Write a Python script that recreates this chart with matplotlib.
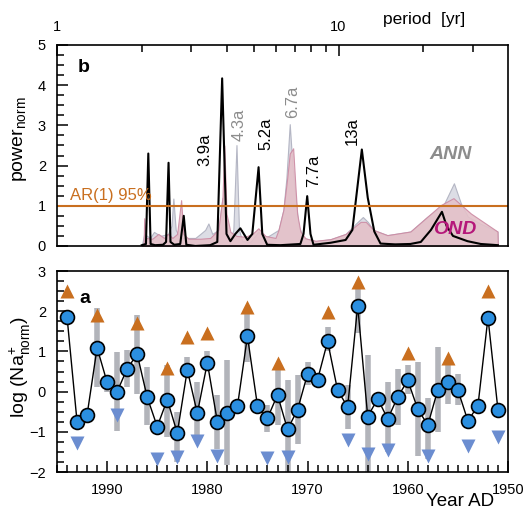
import numpy as np
import matplotlib
matplotlib.use("Agg")
import matplotlib.pyplot as plt
from matplotlib.ticker import FixedLocator, MultipleLocator, NullFormatter

plt.rcParams['font.family'] = ['Liberation Sans', 'DejaVu Sans']
plt.rcParams['mathtext.fontset'] = 'custom'
plt.rcParams['mathtext.rm'] = 'Liberation Sans'

# ---- panel b: spectra (period in years, normalised power) ----
black_period = [2.00, 2.07, 2.11, 2.15, 2.23, 2.38, 2.44, 2.49, 2.53, 2.61, 2.74, 2.82,
                2.88, 3.10, 3.50, 3.71, 3.86, 4.00, 4.13, 4.30, 4.48, 4.75, 4.94, 5.20,
                5.36, 5.58, 6.22, 7.32, 7.51, 7.74, 7.95, 8.15, 9.37, 10.6, 11.2, 12.1,
                12.7, 13.4, 14.1, 15.9, 18.0, 19.6, 21.3, 23.3, 24.2, 25.5, 28.7, 32.0, 36.8]
black_power = [0.02, 0.05, 2.30, 0.05, 0.02, 0.03, 0.10, 2.07, 0.10, 0.03, 0.05, 0.75,
               0.03, 0.00, 0.02, 0.10, 4.17, 0.30, 0.12, 0.30, 0.44, 0.15, 0.30, 1.96,
               0.30, 0.03, 0.02, 0.05, 0.30, 1.24, 0.30, 0.03, 0.08, 0.15, 0.40, 2.40,
               1.20, 0.36, 0.06, 0.04, 0.05, 0.10, 0.40, 0.85, 0.50, 0.25, 0.12, 0.05, 0.02]

ond_period = [2.00, 2.03, 2.04, 2.07, 2.18, 2.29, 2.40, 2.48, 2.57, 2.67, 2.76, 2.81,
              2.93, 3.23, 3.50, 3.74, 3.87, 3.93, 4.00, 4.13, 4.34, 4.67, 4.94, 5.19,
              5.50, 5.97, 6.12, 6.37, 6.56, 6.71, 6.90, 7.03, 7.13, 7.32, 7.63, 8.28,
              9.37, 10.6, 11.5, 11.98, 12.5, 13.3, 14.9, 18.0, 20.7, 23.1, 25.6, 29.5,
              36.7, 36.8]
ond_power = [0.0, 0.0, 0.69, 0.20, 0.18, 0.30, 0.20, 0.30, 0.20, 0.30, 1.14, 0.30,
             0.18, 0.18, 0.20, 0.40, 1.20, 2.50, 0.80, 0.35, 0.25, 0.23, 0.30, 0.44,
             0.25, 0.20, 0.40, 0.90, 1.64, 2.30, 2.43, 1.47, 0.80, 0.36, 0.19, 0.13,
             0.17, 0.30, 0.50, 0.60, 0.60, 0.40, 0.27, 0.36, 0.73, 1.02, 1.19, 0.81,
             0.36, 0.0]

ann_period = [2.00, 2.04, 2.14, 2.21, 2.33, 2.48, 2.55, 2.59, 2.64, 2.74, 2.85, 3.10,
              3.23, 3.36, 3.45, 3.56, 3.74, 3.87, 4.00, 4.13, 4.23, 4.34, 4.43, 4.55,
              4.86, 5.19, 5.50, 6.12, 6.37, 6.53, 6.71, 6.86, 7.03, 7.21, 7.51, 8.28,
              9.37, 10.6, 11.5, 12.2, 12.7, 13.3, 14.9, 18.0, 20.7, 23.6, 25.7, 27.2,
              28.8, 32.0, 36.7, 36.8]
ann_power = [0.0, 0.30, 0.20, 0.35, 0.25, 0.30, 0.50, 1.18, 0.40, 0.20, 0.20, 0.20,
             0.30, 0.40, 0.56, 0.30, 0.40, 1.20, 0.30, 0.15, 0.40, 2.51, 0.40, 0.12,
             0.10, 0.35, 0.20, 0.40, 0.90, 1.70, 3.03, 2.00, 1.20, 0.50, 0.20, 0.12,
             0.17, 0.30, 0.55, 0.72, 0.60, 0.40, 0.27, 0.36, 0.73, 1.02, 1.56, 1.06,
             0.73, 0.55, 0.36, 0.0]

peak_labels = ['3.9a', '4.3a', '5.2a', '6.7a', '7.7a', '13a']
peak_label_x = [3.36, 4.44, 5.50, 6.86, 8.15, 11.2]
peak_label_y = [2.0, 2.6, 2.39, 3.18, 1.47, 2.51]
peak_label_color = ['black', '#8c8c8c', 'black', '#8c8c8c', 'black', 'black']

# ---- panel a: yearly Na+ record ----
years = np.arange(1994, 1950, -1)
na_log = [1.86, -0.75, -0.58, 1.09, 0.23, 0.00, 0.57, 0.93, -0.14, -0.87,
          -0.20, -1.03, 0.54, -0.54, 0.72, -0.75, -0.53, -0.37, 1.38, -0.35,
          -0.66, -0.08, -0.94, -0.45, 0.44, 0.30, 1.25, 0.03, -0.38, 2.14,
          -0.62, -0.18, -0.68, -0.13, 0.28, -0.44, -0.83, 0.05, 0.23, 0.04,
          -0.73, -0.35, 1.84, -0.46]

range_years = [1991, 1990, 1989, 1988, 1987, 1986, 1984, 1983, 1982, 1981, 1980, 1979,
               1978, 1977, 1976, 1975, 1974, 1973, 1972, 1971, 1970, 1969, 1968, 1967,
               1966, 1965, 1964, 1963, 1962, 1961, 1960, 1959, 1958, 1957, 1956, 1955]
range_low = [0.12, 0.0, -0.97, 0.12, -0.05, -0.84, -1.13, -1.76, 0.49, -1.17, 0.55, -1.42,
             -1.82, -0.45, 0.74, -0.45, -1.0, -0.84, -2.17, -1.3, 0.16, 0.2, 1.0, -0.1,
             -0.92, 1.45, -2.09, -0.3, -1.51, -0.84, -0.05, -1.59, -1.67, -1.0, -0.3, -0.34]
range_high = [2.07, 0.41, 0.99, 1.03, 1.9, 0.61, 0.66, -0.51, 0.86, 0.24, 1.0, -0.09,
              0.78, -0.2, 1.99, -0.25, -0.34, 0.66, 0.28, 0.41, 0.74, 0.4, 1.61, 0.2,
              0.16, 2.65, 0.91, -0.1, 0.24, 0.57, 0.66, 0.74, -0.17, 1.11, 0.74, 0.45]

up_years = [1994, 1991, 1987, 1984, 1982, 1980, 1976, 1973, 1968, 1965, 1960, 1956, 1952]
up_vals = [2.5, 1.9, 1.71, 0.58, 1.35, 1.47, 2.11, 0.72, 1.98, 2.73, 0.97, 0.84, 2.51]
down_years = [1993, 1989, 1985, 1983, 1981, 1979, 1974, 1972, 1966, 1964, 1962, 1958, 1954, 1951]
down_vals = [-1.28, -0.58, -1.67, -1.63, -1.23, -1.6, -1.64, -1.63, -1.21, -1.54, -1.46,
             -1.6, -1.36, -1.12]

orange = '#c96f1f'
tick_kw = dict(direction='in', width=1.1, labelsize=10.5)


def style_spines(ax):
    for s in ax.spines.values():
        s.set_linewidth(1.2)


fig = plt.figure(figsize=(5.24, 5.13), dpi=100)

# ---------------- panel b ----------------
axb = fig.add_axes([0.1088, 0.5205, 0.8607, 0.3918])
axb.fill_between(ann_period, ann_power, color='#dcdde5', edgecolor='#b4b6c4', lw=0.8)
axb.fill_between(ond_period, ond_power, color='#e4c1c9', edgecolor='#cc8aa3', lw=0.8, alpha=0.9)
axb.plot(black_period, black_power, color='black', lw=1.5)
axb.axhline(1.0, color=orange, lw=1.5)
axb.text(1.11, 1.08, 'AR(1) 95%', color=orange, fontsize=12, ha='left', va='bottom')
for lab, px, py, c in zip(peak_labels, peak_label_x, peak_label_y, peak_label_color):
    axb.text(px, py, lab, rotation=90, ha='center', va='bottom', fontsize=12, color=c)
axb.text(25.0, 2.28, 'ANN', color='#8c8c8c', fontsize=14, fontweight='bold',
         fontstyle='italic', ha='center', va='center')
axb.text(25.8, 0.42, 'OND', color='#b5177a', fontsize=14, fontweight='bold',
         fontstyle='italic', ha='center', va='center')
axb.text(0.06, 0.89, 'b', transform=axb.transAxes, fontsize=14, fontweight='bold',
         ha='center', va='center')

axb.set_xscale('log')
axb.set_xlim(1, 40)
axb.set_ylim(0, 5)
axb.xaxis.tick_top()
axb.xaxis.set_major_locator(FixedLocator([1, 10]))
axb.xaxis.set_minor_locator(FixedLocator([2, 3, 4, 5, 6, 7, 8, 9, 20, 30]))
axb.xaxis.set_major_formatter(plt.FuncFormatter(lambda v, p: '%d' % v))
axb.xaxis.set_minor_formatter(NullFormatter())
axb.yaxis.set_major_locator(MultipleLocator(1))
axb.yaxis.set_minor_locator(MultipleLocator(0.25))
axb.tick_params(axis='x', which='major', length=8, pad=8, **tick_kw)
axb.tick_params(axis='x', which='minor', length=5, **tick_kw)
axb.tick_params(axis='y', which='major', length=8, pad=8, **tick_kw)
axb.tick_params(axis='y', which='minor', length=5, **tick_kw)
style_spines(axb)
fig.text(0.81, 0.962, 'period  [yr]', fontsize=12.5, ha='center', va='center')
fig.text(0.038, 0.728, r'power$_{\rm norm}$', fontsize=14, rotation=90, ha='center', va='center')

# ---------------- panel a ----------------
axa = fig.add_axes([0.1088, 0.0799, 0.8607, 0.3918])
axa.vlines(range_years, range_low, range_high, color='#b2b4ba', lw=4, zorder=1)
axa.plot(years, na_log, color='black', lw=1.0, zorder=2)
axa.plot(years, na_log, 'o', ms=10, mfc='#2b8fe0', mec='black', mew=1.2, zorder=4)
axa.plot(up_years, up_vals, '^', ms=10, color=orange, mec='none', zorder=3)
axa.plot(down_years, down_vals, 'v', ms=10, color='#6b8dd0', mec='none', zorder=3)
axa.text(0.062, 0.865, 'a', transform=axa.transAxes, fontsize=14, fontweight='bold',
         ha='center', va='center')

axa.set_xlim(1995, 1950)
axa.set_ylim(-2, 3)
axa.xaxis.set_major_locator(MultipleLocator(10))
axa.xaxis.set_minor_locator(MultipleLocator(1))
axa.yaxis.set_major_locator(MultipleLocator(1))
axa.yaxis.set_minor_locator(MultipleLocator(0.25))
axa.tick_params(axis='both', which='major', length=8, pad=8, **tick_kw)
axa.tick_params(axis='both', which='minor', length=5, **tick_kw)
style_spines(axa)
fig.text(0.878, 0.022, 'Year AD', fontsize=13.5, ha='center', va='center')
fig.text(0.038, 0.285, r'log (Na$^{+}_{\rm norm}$)', fontsize=14, rotation=90,
         ha='center', va='center')

fig.savefig('out.png', dpi=100)
